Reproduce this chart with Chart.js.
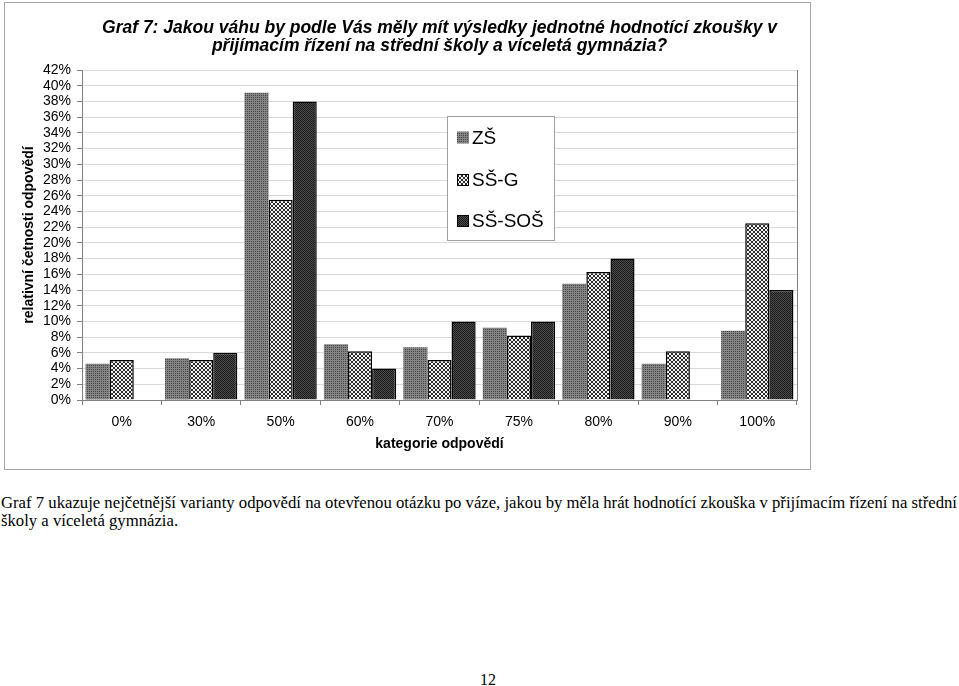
<!DOCTYPE html>
<html>
<head>
<meta charset="utf-8">
<script src="https://cdn.jsdelivr.net/npm/chart.js@4/dist/chart.umd.min.js"></script>
<style>
  html, body { margin: 0; padding: 0; background: #fff; }
  body { width: 959px; height: 686px; position: relative; overflow: hidden; }
  #frame { position: absolute; left: 4px; top: 2px; width: 805px; height: 466px; border: 1px solid #a6a6a6; }
  #chart { display: block; }
  #body { position: absolute; left: 1px; top: 494px; font-family: "Liberation Serif", "Times New Roman", serif; font-size: 16.5px; line-height: 18px; color: #000; transform-origin: 0 0; }
  #body div { white-space: nowrap; }
  #page { position: absolute; left: 0; width: 976px; top: 671px; text-align: center; font-family: "Liberation Serif", "Times New Roman", serif; font-size: 16px; line-height: 18px; }
</style>
</head>
<body>
<div id="frame"><canvas id="chart" width="805" height="466"></canvas></div>
<div id="body"><div id="l1">Graf 7 ukazuje nejčetnější varianty odpovědí na otevřenou otázku po váze, jakou by měla hrát hodnotící zkouška v přijímacím řízení na střední</div><div>školy a víceletá gymnázia.</div></div>
<div id="page">12</div>
<script>
const categories = ["0%", "30%", "50%", "60%", "70%", "75%", "80%", "90%", "100%"];
const seriesNames = ["ZŠ", "SŠ-G", "SŠ-SOŠ"];
const valuesZS   = [4.6, 5.3, 39.1, 7.1, 6.7, 9.2, 14.8, 4.6, 8.8];
const valuesSSG  = [5.1, 5.1, 25.5, 6.2, 5.1, 8.2, 16.3, 6.2, 22.5];
const valuesSOS  = [null, 6.0, 38.0, 4.0, 10.0, 10.0, 18.0, null, 14.0];
const yTicksMax = 42;
const yTicksStep = 2;
const titleLines = ["Graf 7: Jakou váhu by podle Vás měly mít výsledky jednotné hodnotící zkoušky v", "přijímacím řízení na střední školy a víceletá gymnázia?"];
const yTitle = "relativní četnosti odpovědí";
const xTitle = "kategorie odpovědí";

// fit body text line to page width
(function () {
  const l1 = document.getElementById('l1');
  const w = l1.getBoundingClientRect().width;
  document.getElementById('body').style.transform = 'scaleX(' + (956 / w) + ')';
})();

function makePattern(size, pixels) {
  const c = document.createElement('canvas');
  c.width = size; c.height = size;
  const g = c.getContext('2d');
  for (let y = 0; y < size; y++) for (let x = 0; x < size; x++) {
    g.fillStyle = pixels[y][x];
    g.fillRect(x, y, 1, 1);
  }
  return c.getContext('2d').createPattern(c, 'repeat');
}
const A = '#474747', B = '#858585';
const patZS = makePattern(2, [[A, B], [B, B]]);
const K = '#2a2a2a', W = '#f4f4f4';
const patSSG = makePattern(4, [[K, K, W, W], [K, K, W, W], [W, W, K, K], [W, W, K, K]]);
const D = '#1c1c1c', E = '#4a4a4a';
const patSOS = makePattern(2, [[D, E], [E, D]]);
const patterns = [patZS, patSSG, patSOS];
const borders = [0, 1.5, 1.5];

const legendPlugin = {
  id: 'customLegend',
  afterDraw(chart) {
    const ctx = chart.ctx;
    const ca = chart.chartArea;
    ctx.save();
    ctx.strokeStyle = '#808080';
    ctx.lineWidth = 1;
    ctx.beginPath();
    ctx.moveTo(Math.round(ca.right) + 0.5, ca.top);
    ctx.lineTo(Math.round(ca.right) + 0.5, ca.bottom);
    ctx.stroke();
    const bx = 442.5, by = 113.5, bw = 107, bh = 124;
    ctx.fillStyle = '#fff';
    ctx.fillRect(bx, by, bw, bh);
    ctx.strokeStyle = '#a0a0a0';
    ctx.strokeRect(bx, by, bw, bh);
    const ys = [134.5, 177, 218];
    ctx.font = '19px "Liberation Sans", Arial, sans-serif';
    ctx.textBaseline = 'middle';
    ctx.textAlign = 'left';
    seriesNames.forEach((n, i) => {
      ctx.fillStyle = patterns[i];
      ctx.fillRect(452, ys[i] - 6, 12, 12);
      if (borders[i]) {
        ctx.strokeStyle = '#000';
        ctx.lineWidth = 1;
        ctx.strokeRect(452.5, ys[i] - 5.5, 11, 11);
      }
      ctx.fillStyle = '#000';
      ctx.fillText(n, 467, ys[i] + 1);
    });
    ctx.restore();
  }
};

const datasets = [valuesZS, valuesSSG, valuesSOS].map((vals, i) => ({
  label: seriesNames[i],
  data: vals,
  backgroundColor: patterns[i],
  borderColor: '#000',
  borderWidth: borders[i],
  borderSkipped: 'bottom',
  barPercentage: 1.0,
  categoryPercentage: 0.91
}));

const FONT = '"Liberation Sans", Arial, sans-serif';
new Chart(document.getElementById('chart'), {
  type: 'bar',
  data: { labels: categories, datasets },
  options: {
    responsive: false,
    animation: false,
    layout: { padding: { left: 0, right: 13, top: 0, bottom: 0 } },
    plugins: {
      legend: { display: false },
      tooltip: { enabled: false },
      title: {
        display: true,
        fullSize: false,
        text: titleLines,
        color: '#000',
        font: { family: FONT, size: 17.5, weight: 'bold', style: 'italic', lineHeight: '18px' },
        padding: { top: 16.5, bottom: 14.5 }
      }
    },
    scales: {
      x: {
        afterFit: s => { s.height = 69; },
        grid: { display: true, drawOnChartArea: false, drawTicks: true, tickLength: 5, offset: true, tickColor: '#808080' },
        border: { color: '#808080', width: 1 },
        ticks: { color: '#000', font: { family: FONT, size: 14 }, padding: 8.6, maxRotation: 0 },
        title: { display: true, text: xTitle, color: '#000', font: { family: FONT, size: 14, weight: 'bold' }, padding: { top: 0, bottom: 16.6 } }
      },
      y: {
        min: 0, max: yTicksMax,
        afterFit: s => { s.width = 77; },
        grid: { color: '#d9d9d9', lineWidth: 1, tickLength: 5, tickColor: '#808080' },
        border: { color: '#808080', width: 1 },
        ticks: { stepSize: yTicksStep, autoSkip: false, color: '#000', font: { family: FONT, size: 14 }, padding: 6, callback: v => v + '%' },
        title: { display: true, text: yTitle, color: '#000', font: { family: FONT, size: 14, weight: 'bold' }, padding: { top: 15.6, bottom: 0 } }
      }
    }
  },
  plugins: [legendPlugin]
});
</script>
</body>
</html>
